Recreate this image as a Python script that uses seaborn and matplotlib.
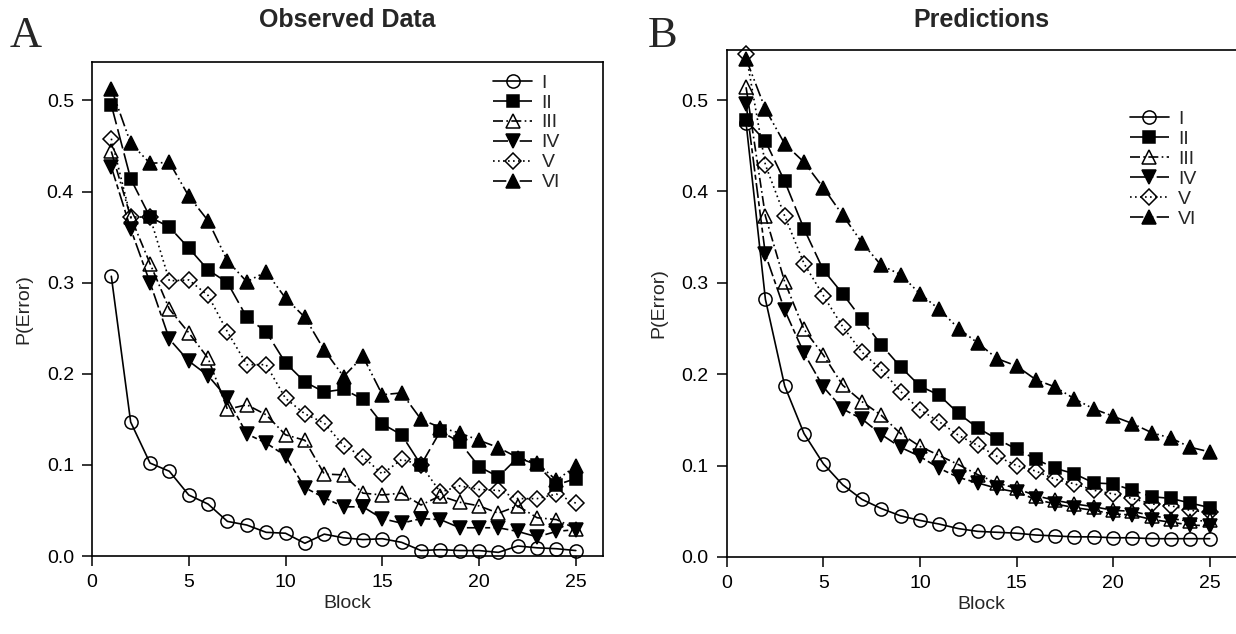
import numpy as np
import matplotlib
matplotlib.use("Agg")
import matplotlib.pyplot as plt
import seaborn as sns

# data
blocks = list(range(1, 26))
series_names = ["I", "II", "III", "IV", "V", "VI"]

obs_I = [0.307, 0.147, 0.102, 0.093, 0.067, 0.057, 0.038, 0.034, 0.026, 0.025, 0.014, 0.024, 0.020,
         0.018, 0.019, 0.015, 0.006, 0.007, 0.006, 0.006, 0.004, 0.011, 0.009, 0.008, 0.006]
obs_II = [0.495, 0.414, 0.372, 0.361, 0.338, 0.314, 0.300, 0.262, 0.246, 0.212, 0.191, 0.180, 0.183,
          0.172, 0.145, 0.133, 0.100, 0.137, 0.125, 0.098, 0.087, 0.108, 0.100, 0.078, 0.085]
obs_III = [0.444, 0.372, 0.321, 0.271, 0.245, 0.217, 0.161, 0.166, 0.155, 0.133, 0.127, 0.090, 0.089,
           0.069, 0.067, 0.069, 0.056, 0.066, 0.059, 0.055, 0.047, 0.055, 0.042, 0.040, 0.030]
obs_IV = [0.427, 0.359, 0.300, 0.238, 0.214, 0.198, 0.173, 0.134, 0.124, 0.110, 0.075, 0.064, 0.054,
          0.054, 0.041, 0.036, 0.041, 0.040, 0.031, 0.031, 0.031, 0.027, 0.021, 0.027, 0.029]
obs_V = [0.458, 0.372, 0.372, 0.302, 0.303, 0.286, 0.246, 0.210, 0.210, 0.173, 0.156, 0.146, 0.121,
         0.109, 0.090, 0.106, 0.100, 0.070, 0.077, 0.073, 0.072, 0.063, 0.063, 0.068, 0.058]
obs_VI = [0.513, 0.453, 0.431, 0.432, 0.395, 0.368, 0.324, 0.301, 0.312, 0.283, 0.262, 0.226, 0.197,
          0.219, 0.177, 0.179, 0.150, 0.141, 0.135, 0.127, 0.119, 0.108, 0.102, 0.083, 0.099]

pred_I = [0.475, 0.282, 0.187, 0.135, 0.102, 0.079, 0.063, 0.053, 0.045, 0.040, 0.036, 0.031, 0.028,
          0.027, 0.026, 0.024, 0.023, 0.022, 0.022, 0.021, 0.021, 0.020, 0.020, 0.020, 0.020]
pred_II = [0.478, 0.455, 0.411, 0.359, 0.314, 0.288, 0.260, 0.232, 0.208, 0.187, 0.177, 0.157, 0.141,
           0.129, 0.118, 0.107, 0.097, 0.091, 0.081, 0.080, 0.073, 0.066, 0.064, 0.059, 0.054]
pred_III = [0.514, 0.373, 0.301, 0.249, 0.221, 0.188, 0.170, 0.155, 0.135, 0.121, 0.111, 0.101, 0.090,
            0.081, 0.075, 0.067, 0.062, 0.058, 0.055, 0.051, 0.050, 0.045, 0.042, 0.039, 0.040]
pred_IV = [0.496, 0.331, 0.270, 0.223, 0.186, 0.162, 0.151, 0.134, 0.120, 0.110, 0.097, 0.087, 0.081,
           0.075, 0.071, 0.063, 0.058, 0.054, 0.051, 0.047, 0.046, 0.041, 0.038, 0.035, 0.034]
pred_V = [0.550, 0.429, 0.373, 0.321, 0.286, 0.252, 0.224, 0.205, 0.181, 0.161, 0.148, 0.133, 0.122,
          0.110, 0.100, 0.094, 0.085, 0.080, 0.073, 0.069, 0.064, 0.058, 0.056, 0.051, 0.049]
pred_VI = [0.545, 0.490, 0.452, 0.432, 0.404, 0.374, 0.344, 0.319, 0.309, 0.288, 0.271, 0.250, 0.234,
           0.217, 0.209, 0.194, 0.186, 0.173, 0.162, 0.154, 0.146, 0.136, 0.130, 0.120, 0.115]

x_ticks = [0, 5, 10, 15, 20, 25]
y_ticks = [0.0, 0.1, 0.2, 0.3, 0.4, 0.5]

# marker / line style per problem type
styles = {
    "I":   dict(marker="o", mfc="none", ms=9.5, ls="-"),
    "II":  dict(marker="s", mfc="black", ms=8.5, ls=(0, (12, 3))),
    "III": dict(marker="^", mfc="none", ms=9.5, ls=(0, (6, 2, 1, 2))),
    "IV":  dict(marker="v", mfc="black", ms=9.5, ls=(0, (9, 2, 3, 2))),
    "V":   dict(marker="D", mfc="none", ms=8, ls=(0, (1, 2))),
    "VI":  dict(marker="^", mfc="black", ms=9.5, ls=(0, (8, 2, 1, 2, 1, 2))),
}

sns.set_style("ticks")
plt.rcParams["font.family"] = ["Liberation Sans", "DejaVu Sans"]

W, H = 1236, 634
fig = plt.figure(figsize=(W / 100, H / 100), dpi=100)
ax_a = fig.add_axes([0.0744, 0.123, 0.4134, 0.779])
ax_b = fig.add_axes([0.588, 0.1215, 0.4126, 0.80])


def draw_panel(ax, data, title, letter, letter_x, ytop, legend_anchor):
    for name, vals in zip(series_names, data):
        st = styles[name]
        sns.lineplot(x=blocks, y=vals, ax=ax, color="black", lw=1.2,
                     linestyle=st["ls"], marker=st["marker"], markersize=st["ms"],
                     markerfacecolor=st["mfc"], markeredgecolor="black",
                     markeredgewidth=1.1, label=name, clip_on=False)
    ax.set_xlim(0, 26.4)
    ax.set_ylim(0, ytop)
    ax.set_xticks(x_ticks)
    ax.set_yticks(y_ticks)
    ax.set_yticklabels([f"{v:.1f}" for v in y_ticks])
    ax.tick_params(direction="out", length=7, width=1.1, labelsize=14, colors="black", pad=6)
    for sp in ax.spines.values():
        sp.set_linewidth(1.2)
        sp.set_color("black")
    ax.set_xlabel("Block", fontsize=14, labelpad=3)
    ax.set_ylabel("P(Error)", fontsize=14, labelpad=10)
    # title and panel letter placed in figure pixels
    cx = (ax.get_position().x0 + ax.get_position().x1) / 2
    fig.text(cx, 1 - 20 / H, title, fontsize=18, fontweight="bold", ha="center", va="center")
    fig.text(letter_x / W, 1 - 47 / H, letter, fontsize=32,
             family=["Liberation Serif", "DejaVu Serif"], va="baseline", ha="left")
    ax.legend(loc="upper left", bbox_to_anchor=legend_anchor, frameon=False,
              fontsize=14, handlelength=2.0, labelspacing=0.12, handletextpad=0.5,
              borderaxespad=0, borderpad=0)


draw_panel(ax_a, [obs_I, obs_II, obs_III, obs_IV, obs_V, obs_VI],
           "Observed Data", "A", 10, 0.542, (0.785, 0.976))
draw_panel(ax_b, [pred_I, pred_II, pred_III, pred_IV, pred_V, pred_VI],
           "Predictions", "B", 648, 0.555, (0.79, 0.88))

fig.savefig("out.png", dpi=100)
